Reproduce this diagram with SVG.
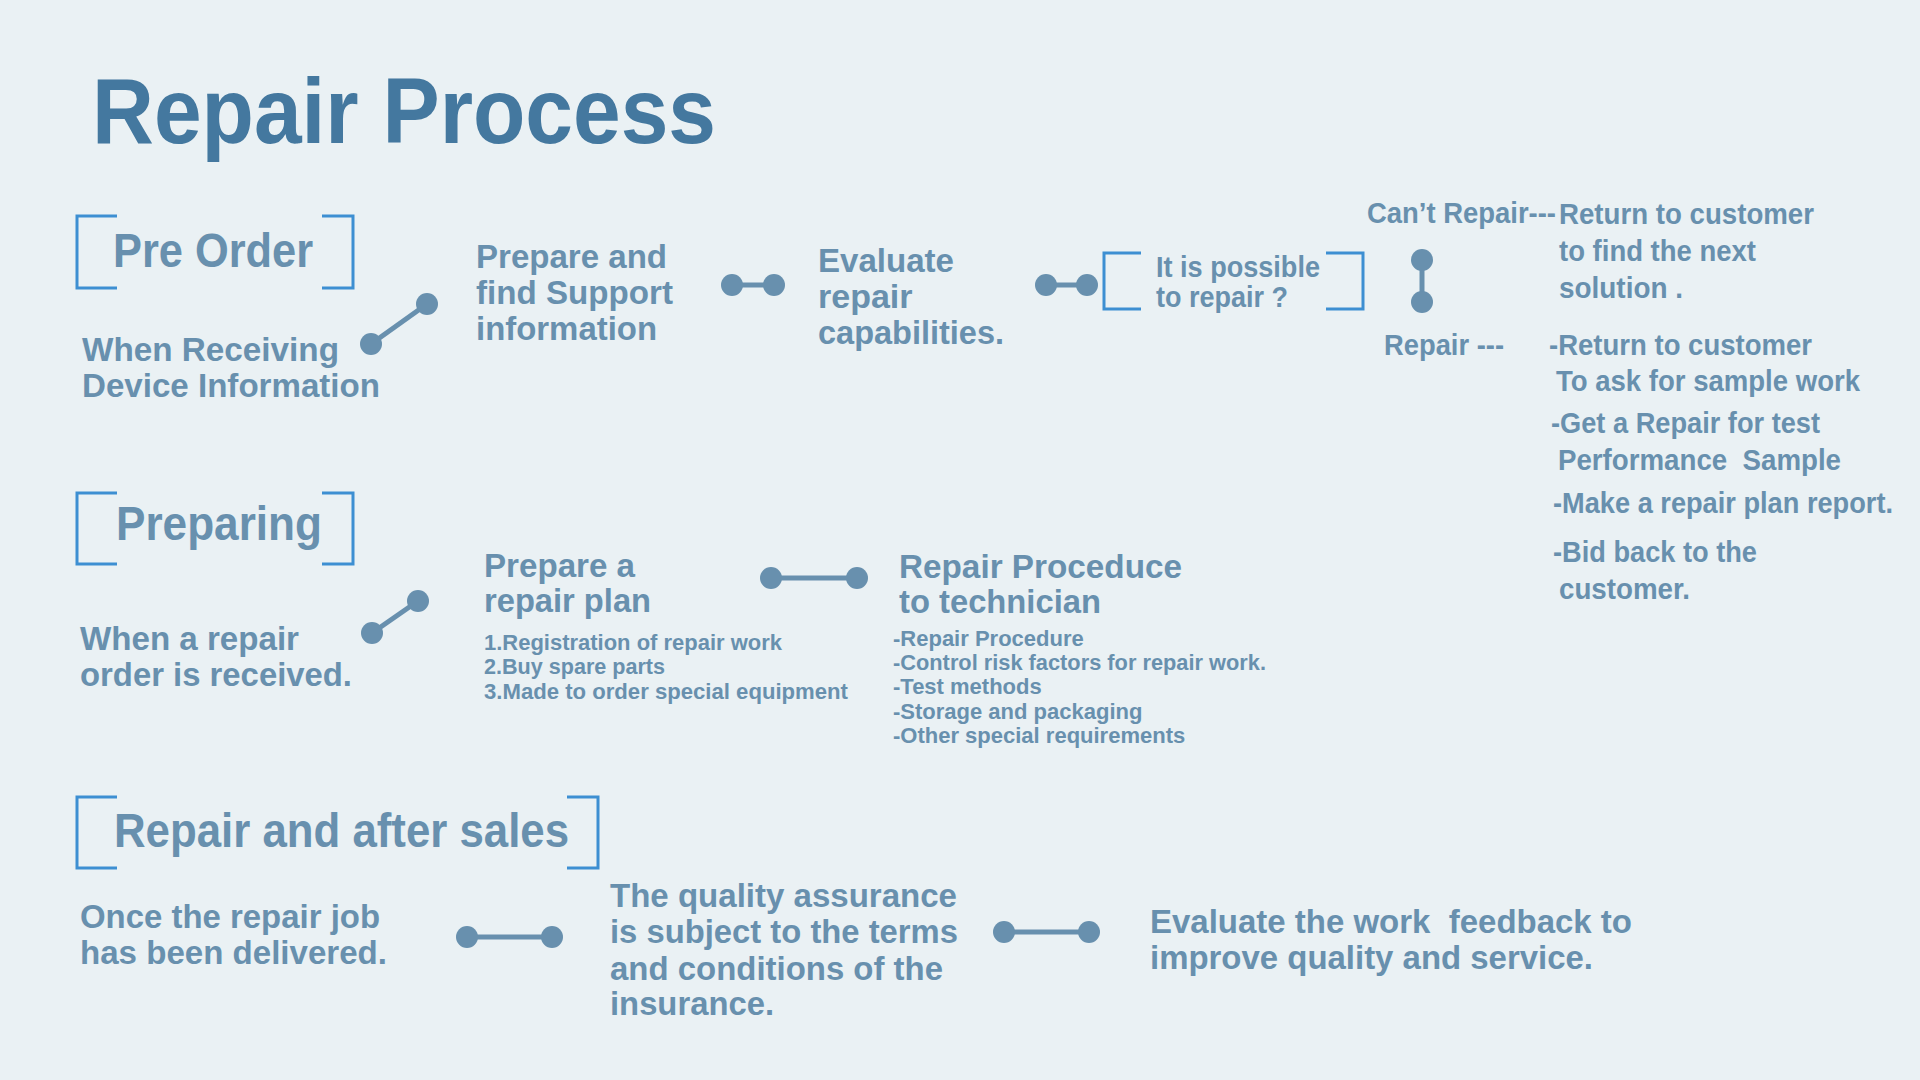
<svg xmlns="http://www.w3.org/2000/svg" width="1920" height="1080" viewBox="0 0 1920 1080">
<style>
.t{font-family:"Liberation Sans",Arial,sans-serif;font-weight:bold;fill:#6890ae;white-space:pre}
.title{fill:#44789f;font-size:92px}
.h{font-size:48px}
.m{font-size:34px}
.r{font-size:30px}
.s{font-size:22px}
.br{fill:none;stroke:#3d8fd2;stroke-width:3}
.cl{stroke:#6890ae;stroke-width:5;fill:none}
.cd{fill:#6890ae}
</style>
<rect width="1920" height="1080" fill="#eaf1f4"/>
<text class="t title" x="92" y="143" textLength="624" lengthAdjust="spacingAndGlyphs">Repair Process</text>

<g id="pre-order">
<path class="br" d="M117,216 H77 V288 H117 M322,216 H353 V288 H322"/>
<text class="t h" x="113" y="267" textLength="200" lengthAdjust="spacingAndGlyphs">Pre Order</text>
</g>
<g id="receiving">
<text class="t m" x="82" y="361" textLength="257" lengthAdjust="spacingAndGlyphs">When Receiving</text>
<text class="t m" x="82" y="397" textLength="298" lengthAdjust="spacingAndGlyphs">Device Information</text>
</g>
<g id="prepare-support">
<text class="t m" x="476" y="268" textLength="191" lengthAdjust="spacingAndGlyphs">Prepare and</text>
<text class="t m" x="476" y="304" textLength="197" lengthAdjust="spacingAndGlyphs">find Support</text>
<text class="t m" x="476" y="340" textLength="181" lengthAdjust="spacingAndGlyphs">information</text>
</g>
<g id="evaluate">
<text class="t m" x="818" y="272" textLength="136" lengthAdjust="spacingAndGlyphs">Evaluate</text>
<text class="t m" x="818" y="308">repair</text>
<text class="t m" x="818" y="344" textLength="186" lengthAdjust="spacingAndGlyphs">capabilities.</text>
</g>
<g id="possible">
<path class="br" d="M1141,253 H1104 V309 H1141 M1326,253 H1363 V309 H1326"/>
<text class="t" style="font-size:29px" x="1156" y="277" textLength="164" lengthAdjust="spacingAndGlyphs">It is possible</text>
<text class="t" style="font-size:29px" x="1156" y="307" textLength="132" lengthAdjust="spacingAndGlyphs">to repair ?</text>
</g>
<g id="cant-repair">
<text class="t" style="font-size:29px" x="1367" y="223" textLength="189" lengthAdjust="spacingAndGlyphs">Can’t Repair---</text>
<text class="t r" x="1559" y="224" textLength="255" lengthAdjust="spacingAndGlyphs">Return to customer</text>
<text class="t r" x="1559" y="261" textLength="197" lengthAdjust="spacingAndGlyphs">to find the next</text>
<text class="t r" x="1559" y="298" textLength="124" lengthAdjust="spacingAndGlyphs">solution .</text>
</g>
<g id="repair">
<text class="t" style="font-size:29px" x="1384" y="355" textLength="120" lengthAdjust="spacingAndGlyphs">Repair ---</text>
<text class="t r" x="1549" y="355" textLength="263" lengthAdjust="spacingAndGlyphs">-Return to customer</text>
<text class="t r" x="1556" y="391" textLength="304" lengthAdjust="spacingAndGlyphs">To ask for sample work</text>
<text class="t r" x="1551" y="433" textLength="269" lengthAdjust="spacingAndGlyphs">-Get a Repair for test</text>
<text class="t r" x="1558" y="470" textLength="283" lengthAdjust="spacingAndGlyphs">Performance  Sample</text>
<text class="t r" x="1553" y="513" textLength="340" lengthAdjust="spacingAndGlyphs">-Make a repair plan report.</text>
<text class="t r" x="1553" y="562" textLength="204" lengthAdjust="spacingAndGlyphs">-Bid back to the</text>
<text class="t r" x="1559" y="599" textLength="131" lengthAdjust="spacingAndGlyphs">customer.</text>
</g>

<g id="preparing">
<path class="br" d="M117,493 H77 V564 H117 M322,493 H353 V564 H322"/>
<text class="t h" x="116" y="540" textLength="206" lengthAdjust="spacingAndGlyphs">Preparing</text>
</g>
<g id="order-received">
<text class="t m" x="80" y="650" textLength="219" lengthAdjust="spacingAndGlyphs">When a repair</text>
<text class="t m" x="80" y="686" textLength="272" lengthAdjust="spacingAndGlyphs">order is received.</text>
</g>
<g id="repair-plan">
<text class="t m" x="484" y="577" textLength="151" lengthAdjust="spacingAndGlyphs">Prepare a</text>
<text class="t m" x="484" y="612" textLength="167" lengthAdjust="spacingAndGlyphs">repair plan</text>
<text class="t s" x="484" y="650" textLength="298" lengthAdjust="spacingAndGlyphs">1.Registration of repair work</text>
<text class="t s" x="484" y="674" textLength="181" lengthAdjust="spacingAndGlyphs">2.Buy spare parts</text>
<text class="t s" x="484" y="699" textLength="364" lengthAdjust="spacingAndGlyphs">3.Made to order special equipment</text>
</g>
<g id="procedure">
<text class="t m" x="899" y="578" textLength="283" lengthAdjust="spacingAndGlyphs">Repair Proceduce</text>
<text class="t m" x="899" y="613" textLength="202" lengthAdjust="spacingAndGlyphs">to technician</text>
<text class="t s" x="893" y="646">-Repair Procedure</text>
<text class="t s" x="893" y="670" textLength="373" lengthAdjust="spacingAndGlyphs">-Control risk factors for repair work.</text>
<text class="t s" x="893" y="694">-Test methods</text>
<text class="t s" x="893" y="719">-Storage and packaging</text>
<text class="t s" x="893" y="743">-Other special requirements</text>
</g>

<g id="after-sales">
<path class="br" d="M117,797 H77 V868 H117 M567,797 H598 V868 H567"/>
<text class="t h" x="114" y="847" textLength="455" lengthAdjust="spacingAndGlyphs">Repair and after sales</text>
</g>
<g id="delivered">
<text class="t m" x="80" y="928" textLength="300" lengthAdjust="spacingAndGlyphs">Once the repair job</text>
<text class="t m" x="80" y="964" textLength="307" lengthAdjust="spacingAndGlyphs">has been delivered.</text>
</g>
<g id="quality">
<text class="t m" x="610" y="907" textLength="347" lengthAdjust="spacingAndGlyphs">The quality assurance</text>
<text class="t m" x="610" y="943" textLength="348" lengthAdjust="spacingAndGlyphs">is subject to the terms</text>
<text class="t m" x="610" y="980" textLength="333" lengthAdjust="spacingAndGlyphs">and conditions of the</text>
<text class="t m" x="610" y="1015" textLength="164" lengthAdjust="spacingAndGlyphs">insurance.</text>
</g>
<g id="feedback">
<text class="t m" x="1150" y="933" textLength="482" lengthAdjust="spacingAndGlyphs">Evaluate the work  feedback to</text>
<text class="t m" x="1150" y="969" textLength="443" lengthAdjust="spacingAndGlyphs">improve quality and service.</text>
</g>

<g id="connectors">
<g><line class="cl" x1="371" y1="344" x2="427" y2="304"/><circle class="cd" cx="371" cy="344" r="11"/><circle class="cd" cx="427" cy="304" r="11"/></g>
<g><line class="cl" x1="732" y1="285" x2="774" y2="285"/><circle class="cd" cx="732" cy="285" r="11"/><circle class="cd" cx="774" cy="285" r="11"/></g>
<g><line class="cl" x1="1046" y1="285" x2="1087" y2="285"/><circle class="cd" cx="1046" cy="285" r="11"/><circle class="cd" cx="1087" cy="285" r="11"/></g>
<g><line class="cl" x1="1422" y1="260" x2="1422" y2="302"/><circle class="cd" cx="1422" cy="260" r="11"/><circle class="cd" cx="1422" cy="302" r="11"/></g>
<g><line class="cl" x1="372" y1="633" x2="418" y2="601"/><circle class="cd" cx="372" cy="633" r="11"/><circle class="cd" cx="418" cy="601" r="11"/></g>
<g><line class="cl" x1="771" y1="578" x2="857" y2="578"/><circle class="cd" cx="771" cy="578" r="11"/><circle class="cd" cx="857" cy="578" r="11"/></g>
<g><line class="cl" x1="467" y1="937" x2="552" y2="937"/><circle class="cd" cx="467" cy="937" r="11"/><circle class="cd" cx="552" cy="937" r="11"/></g>
<g><line class="cl" x1="1004" y1="932" x2="1089" y2="932"/><circle class="cd" cx="1004" cy="932" r="11"/><circle class="cd" cx="1089" cy="932" r="11"/></g>
</g>
</svg>
